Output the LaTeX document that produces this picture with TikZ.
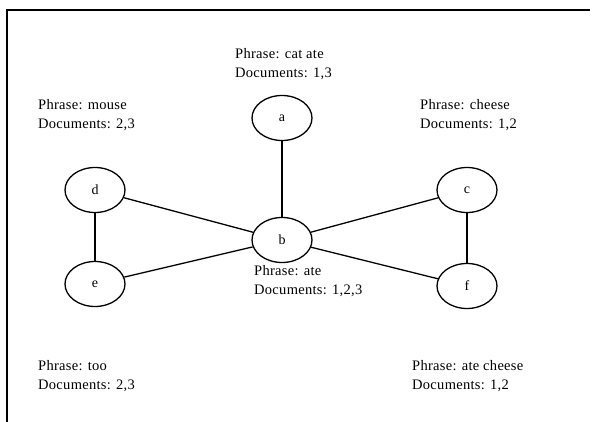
\documentclass[tikz,border=0pt]{standalone}
\usepackage{fontspec}
\setmainfont{Liberation Serif}
\usetikzlibrary{shapes.geometric}
\begin{document}
\begin{tikzpicture}[x=1pt,y=-1pt,
  vert/.style={draw,line width=1.3pt,ellipse,minimum width=60pt,minimum height=45pt,inner sep=0pt,font=\fontsize{14}{14}\selectfont},
  lab/.style={anchor=north west,align=left,inner sep=0pt,font=\fontsize{14.5}{19.5}\selectfont\addfontfeatures{LetterSpace=2}},
  edge/.style={line width=1.3pt}]
\useasboundingbox (0,0) rectangle (592,422);
\draw[line width=1.2pt] (7,422) -- (7,10) -- (590,10);
\node[vert] (a) at (282,118) {a};
\node[vert] (b) at (282,240) {b};
\node[vert] (c) at (467,190) {c};
\node[vert] (d) at (95,190) {d};
\node[vert] (e) at (95,284) {e};
\node[vert] (f) at (467,286) {f};
\draw[edge] (a) -- (b);
\draw[edge] (b) -- (d);
\draw[edge] (b) -- (e);
\draw[edge] (b) -- (c);
\draw[edge] (b) -- (f);
\draw[edge] (d) -- (e);
\draw[edge] (c) -- (f);
\node[lab] (la) at (235,48) {Phrase: cat ate\\Documents: 1,3};
\node[lab] (ld) at (38,99) {Phrase: mouse\\Documents: 2,3};
\node[lab] (lc) at (420,99) {Phrase: cheese\\Documents: 1,2};
\node[lab] (lb) at (254,265) {Phrase: ate\\Documents: 1,2,3};
\node[lab] (le) at (38,360) {Phrase: too\\Documents: 2,3};
\node[lab] (lf) at (412,360) {Phrase: ate cheese\\Documents: 1,2};
\end{tikzpicture}
\end{document}
